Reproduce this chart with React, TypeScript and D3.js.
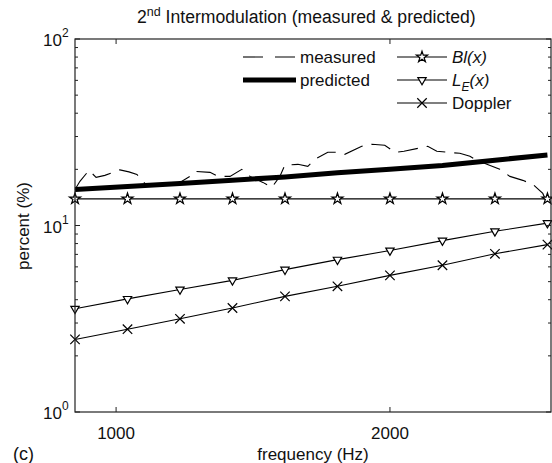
import React from "react";
import * as d3 from "d3";

// frequencies where the model curves carry markers (Hz)
const markerFreqs = [850, 1041.7, 1233.3, 1425, 1616.7, 1808.3, 2000, 2191.7, 2383.3, 2575];
const blValues = [13.9, 13.9, 13.9, 13.9, 13.9, 13.9, 13.9, 13.9, 13.9, 13.9];
const leValues = [3.58, 4.04, 4.54, 5.08, 5.8, 6.56, 7.34, 8.3, 9.31, 10.3];
const dopplerValues = [2.45, 2.78, 3.16, 3.61, 4.17, 4.72, 5.4, 6.12, 7.05, 7.9];
const predictedValues = [15.6, 16.2, 16.8, 17.5, 18.2, 19.2, 20.0, 21.0, 22.4, 23.9];

// measured distortion (dashed curve)
const measuredFreqs = [
  850, 868, 901, 927, 959, 1014, 1047, 1076, 1105, 1160, 1215, 1270, 1288, 1343, 1372,
  1416, 1459, 1489, 1536, 1569, 1598, 1616, 1664, 1700, 1726, 1773, 1810, 1835, 1897,
  1934, 1981, 2018, 2051, 2138, 2171, 2255, 2292, 2310, 2354, 2401, 2438, 2485, 2522,
  2558, 2576, 2587,
];
const measuredValues = [
  15.6, 17.25, 19.76, 18.12, 18.57, 19.88, 19.39, 18.8, 16.82, 16.21, 16.41, 18.34, 19.51,
  19.27, 18.34, 18.34, 20.0, 18.34, 17.03, 16.01, 18.34, 21.02, 21.28, 20.76, 22.63, 24.69,
  24.69, 24.08, 26.59, 27.26, 26.92, 24.69, 24.99, 26.59, 24.99, 24.38, 23.49, 22.63, 21.28,
  20.0, 18.34, 17.46, 16.61, 14.86, 12.97, 12.5,
];

const xTicks = [1000, 2000];
const yTicks = [1, 10, 100];
const yTickExp = ["0", "1", "2"];

const FONT = "'Liberation Sans', Arial, Helvetica, sans-serif";

export default function App() {
  const W = 552,
    H = 463;
  const left = 75,
    right = 551,
    top = 39,
    bottom = 412;

  const x = d3.scaleLinear().domain([850, 2588]).range([left, right]);
  const y = d3.scaleLog().domain([1, 100]).range([bottom, top]);

  const line = d3
    .line<[number, number]>()
    .x((d) => x(d[0]))
    .y((d) => y(d[1]));

  const zip = (fs: number[], vs: number[]) => fs.map((f, i) => [f, vs[i]] as [number, number]);

  const minorTicks: number[] = [];
  [1, 10].forEach((dec) => {
    for (let k = 2; k <= 9; k++) minorTicks.push(dec * k);
  });

  const star = d3.symbol(d3.symbolStar, 38)()!;
  const tri = d3.symbol(d3.symbolTriangle, 30)()!;
  const cross = d3.symbol(d3.symbolX, 60)()!;

  const markerLine = (vals: number[], path: string, rot: number, key: string) => (
    <g key={key}>
      <path d={line(zip(markerFreqs, vals))!} fill="none" stroke="#000" strokeWidth={1.1} />
      {markerFreqs.map((f, i) => (
        <path
          key={i}
          d={path}
          transform={`translate(${x(f)},${y(vals[i])}) rotate(${rot})`}
          fill="#fff"
          stroke="#000"
          strokeWidth={1.2}
        />
      ))}
    </g>
  );

  // legend geometry
  const lx1 = 243,
    lx2 = 296,
    rx1 = 397,
    rx2 = 447;
  const rows = [57, 80, 103];

  return (
    <svg
      width={W}
      height={H}
      style={{ position: "absolute", left: 0, top: 0, background: "#fff" }}
      fontFamily={FONT}
    >
      <rect x={0} y={0} width={W} height={H} fill="#fff" />

      {/* title */}
      <text x={137} y={23} fontSize={17.6} fill="#111">
        2<tspan fontSize={12.5} dy={-7}>nd</tspan>
        <tspan dy={7}> Intermodulation (measured &amp; predicted)</tspan>
      </text>

      {/* data */}
      <path
        d={line(zip(measuredFreqs, measuredValues))!}
        fill="none"
        stroke="#000"
        strokeWidth={1.1}
        strokeDasharray="20,9"
      />
      <path
        d={line(zip(markerFreqs, predictedValues))!}
        fill="none"
        stroke="#000"
        strokeWidth={5}
      />
      {markerLine(blValues, star, 0, "bl")}
      {markerLine(leValues, tri, 180, "le")}
      {markerLine(dopplerValues, cross, 0, "dop")}

      {/* axes box */}
      <rect x={left} y={top} width={right - left} height={bottom - top} fill="none" stroke="#222" strokeWidth={1.2} />

      {xTicks.map((t) => (
        <g key={t}>
          <line x1={x(t)} x2={x(t)} y1={bottom} y2={bottom - 5} stroke="#222" />
          <line x1={x(t)} x2={x(t)} y1={top} y2={top + 5} stroke="#222" />
          <text x={x(t)} y={439} fontSize={17} textAnchor="middle" fill="#111">
            {t}
          </text>
        </g>
      ))}

      {minorTicks.map((t) => (
        <g key={t}>
          <line x1={left} x2={left + 3} y1={y(t)} y2={y(t)} stroke="#222" />
          <line x1={right} x2={right - 3} y1={y(t)} y2={y(t)} stroke="#222" />
        </g>
      ))}
      {yTicks.map((t, i) => (
        <g key={t}>
          <line x1={left} x2={left + 5} y1={y(t)} y2={y(t)} stroke="#222" />
          <line x1={right} x2={right - 5} y1={y(t)} y2={y(t)} stroke="#222" />
          <text x={43} y={y(t) + 7} fontSize={17} fill="#111">
            10<tspan fontSize={12} dy={-9}>{yTickExp[i]}</tspan>
          </text>
        </g>
      ))}

      {/* axis labels */}
      <text x={313} y={460} fontSize={17} textAnchor="middle" fill="#111">
        frequency (Hz)
      </text>
      <text x={13} y={460} fontSize={18} fill="#111">
        (c)
      </text>
      <text
        transform={`translate(29,226) rotate(-90)`}
        fontSize={17}
        textAnchor="middle"
        fill="#111"
      >
        percent (%)
      </text>

      {/* legend */}
      <line x1={lx1} x2={lx2} y1={rows[0]} y2={rows[0]} stroke="#000" strokeWidth={1.1} strokeDasharray="20,12" />
      <text x={300} y={rows[0] + 6} fontSize={17} fill="#111">measured</text>
      <line x1={lx1} x2={lx2} y1={rows[1]} y2={rows[1]} stroke="#000" strokeWidth={5} />
      <text x={300} y={rows[1] + 6} fontSize={17} fill="#111">predicted</text>

      {[star, tri, cross].map((p, i) => (
        <g key={i}>
          <line x1={rx1} x2={rx2} y1={rows[i]} y2={rows[i]} stroke="#000" strokeWidth={1.1} />
          <path
            d={p}
            transform={`translate(${(rx1 + rx2) / 2},${rows[i]}) rotate(${i === 1 ? 180 : 0})`}
            fill="#fff"
            stroke="#000"
            strokeWidth={1.2}
          />
        </g>
      ))}
      <text x={452} y={rows[0] + 6} fontSize={17} fontStyle="italic" fill="#111">Bl(x)</text>
      <text x={452} y={rows[1] + 6} fontSize={17} fontStyle="italic" fill="#111">
        L<tspan fontSize={12} dy={5}>E</tspan>
        <tspan dy={-5}>(x)</tspan>
      </text>
      <text x={452} y={rows[2] + 6} fontSize={17} fill="#111">Doppler</text>
    </svg>
  );
}
